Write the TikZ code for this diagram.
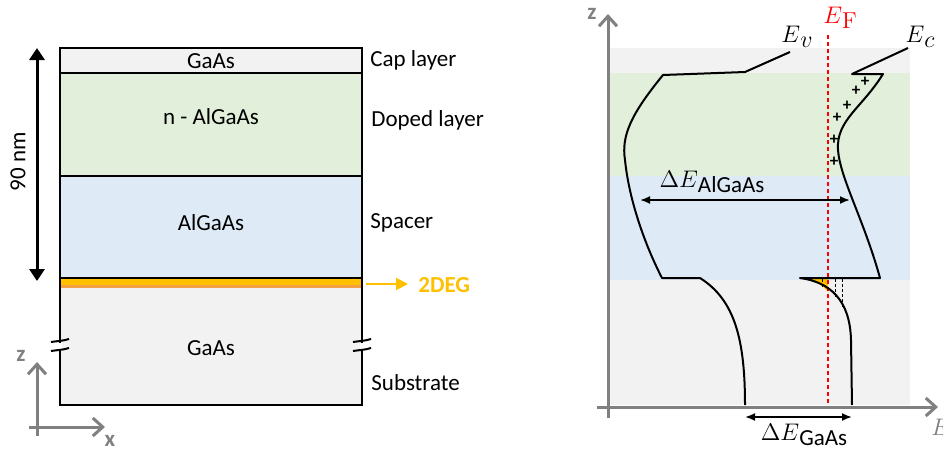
\documentclass[tikz,border=0pt]{standalone}
\usepackage{fontspec}
\setmainfont{Carlito}
\newfontfamily\serifroman{Latin Modern Roman}
\usetikzlibrary{arrows.meta}

\definecolor{capgray}{HTML}{F2F2F2}
\definecolor{dopedgreen}{HTML}{E2EFDA}
\definecolor{spacerblue}{HTML}{DEEBF7}
\definecolor{degyellow}{HTML}{FFC000}
\definecolor{degorange}{HTML}{F4A040}
\definecolor{axisgray}{HTML}{808080}

\newcommand{\basefont}{\fontsize{11.5}{14}\selectfont}

\tikzset{
  layer/.style={draw=black,line width=1pt},
  band/.style={line width=1pt,line join=round},
  axis/.style={draw=axisgray,line width=1.5pt,-{Straight Barb[length=5pt,width=9pt,line width=1.5pt]}},
  dimarrow/.style={line width=0.9pt,{Latex[length=5pt,width=4pt]}-{Latex[length=5pt,width=4pt]}},
  lbl/.style={inner sep=0pt},
  sidelbl/.style={inner sep=0pt,anchor=west},
  axlbl/.style={inner sep=0pt,text=axisgray,font=\basefont\bfseries},
  plus/.style={inner sep=0pt,font=\fontsize{8.5}{8.5}\selectfont\bfseries},
}

\begin{document}
\begin{tikzpicture}[x=0.5pt,y=-0.5pt,font=\basefont]
\useasboundingbox (0,0) rectangle (943,450);

% layer stack
\fill[capgray] (60,48) rectangle (362,73);
\fill[dopedgreen] (60,73) rectangle (362,176);
\fill[spacerblue] (60,176) rectangle (362,278);
\fill[degyellow] (60,278) rectangle (362,285);
\fill[degorange] (60,285) rectangle (362,287.5);
\fill[capgray] (60,287.5) rectangle (362,405);
\draw[layer] (60,48) rectangle (362,405);
\draw[layer] (60,73) -- (362,73);
\draw[layer] (60,176) -- (362,176);
\draw[layer] (60,278) -- (362,278);

% breaks in the substrate
\foreach \bx in {60,362}{
  \draw[white,line width=2pt] (\bx,342.5) -- (\bx,350.5);
  \draw[line width=1pt] (\bx-9,342) .. controls (\bx-3,341) and (\bx+3,341) .. (\bx+9,339);
  \draw[line width=1pt] (\bx-9,351) .. controls (\bx-3,350) and (\bx+3,350) .. (\bx+9,348);
}

\node[lbl] (capGaAs) at (211,61) {GaAs};
\node[lbl] (dopedAlGaAs) at (211,117) {n - AlGaAs};
\node[lbl] (spacerAlGaAs) at (211,223) {AlGaAs};
\node[lbl] (subGaAs) at (211,348) {GaAs};

\node[sidelbl] (capLabel) at (370,60) {Cap layer};
\node[sidelbl] (dopedLabel) at (371,120) {Doped layer};
\node[sidelbl] (spacerLabel) at (370,223) {Spacer};
\node[sidelbl] (subLabel) at (371,383) {Substrate};

\node[anchor=west,inner sep=5pt,text=degyellow,font=\basefont\bfseries] (degLabel) at (408,285) {2DEG};
\coordinate (degStart) at (366,284);
\draw[degyellow,line width=1pt,-{Triangle[length=6pt,width=6pt]}] (degStart) -- (degStart-|degLabel.west);

% thickness
\coordinate (stackTop) at (37,48);
\coordinate (stackBot) at (37,281);
\draw[line width=1.5pt,{Triangle[length=6pt,width=7.5pt]}-{Triangle[length=6pt,width=7.5pt]}] (stackTop) -- (stackBot);
\node[lbl,rotate=90] (thickLabel) at (18,162) {90 nm};

% sample axes
\coordinate (zTip) at (37,362);
\coordinate (xTip) at (105,427);
\draw[axis] (37,436) -- (zTip);
\draw[axis] (29,427) -- (xTip);
\node[axlbl] (zLeft) at (21,356) {z};
\node[axlbl] (xLeft) at (110,441) {x};

% band diagram background
\fill[capgray] (610,48) rectangle (910,73);
\fill[dopedgreen] (610,73) rectangle (910,176);
\fill[spacerblue] (610,176) rectangle (910,280);
\fill[capgray] (610,280) rectangle (910,405);

\coordinate (zTop) at (608,14);
\coordinate (eTip) at (938,407);
\draw[axis] (608,418) -- (zTop);
\draw[axis] (597,407) -- (eTip);
\node[axlbl] (zRight) at (592,14) {z};
\node[inner sep=0pt,anchor=west,text=axisgray] (eAxis) at (931,427) {$E$};

% electron gas
\fill[degyellow] (803,279) .. controls (815,281) and (823,285) .. (828,292) -- (828,279) -- cycle;
\foreach \dx/\dy in {822/287,835/298,842/309}
  \draw[dash pattern=on 1.5pt off 1pt,line width=0.4pt] (\dx,279) -- (\dx,\dy);

% Fermi level
\draw[red,line width=0.75pt,dash pattern=on 2pt off 1.5pt] (828,35) -- (828,405);
\node[lbl,text=red] (efLabel) at (840,18) {$E$\raisebox{-0.45ex}{\serifroman F}};

% valence and conduction band edges
\draw[band] (790,52) -- (745,72) -- (663,75)
  .. controls (632,113) and (621,135) .. (625,160)
  .. controls (629,200) and (645,245) .. (662,278) -- (700,278)
  .. controls (735,300) and (745,340) .. (745,405);
\draw[band] (908,48) -- (852,74) -- (883,74)
  .. controls (862,108) and (836,120) .. (838,150)
  .. controls (840,178) and (864,220) .. (880,278) -- (800,278)
  .. controls (830,282) and (850,300) .. (851,340) -- (852,405);

\node[lbl] (evLabel) at (797,37) {$E$\raisebox{-0.5ex}{$v$}};
\node[lbl] (ecLabel) at (920,37) {$E$\raisebox{-0.5ex}{$c$}};

% ionised donors
\foreach \px/\py [count=\i] in {865/82,856/91,847/106,837/118,834/140,834/162}
  \node[plus] (plus\i) at (\px,\py) {+};

% band gaps
\coordinate (gapAlL) at (640,200);
\coordinate (gapAlR) at (850,200);
\draw[dimarrow] (gapAlL) -- (gapAlR);
\node[lbl] (gapAlLabel) at (712,182) {$\Delta E$\raisebox{-0.45ex}{AlGaAs}};
\coordinate (gapGaL) at (745,417);
\coordinate (gapGaR) at (852,417);
\draw[dimarrow] (gapGaL) -- (gapGaR);
\node[lbl] (gapGaLabel) at (804,435) {$\Delta E$\raisebox{-0.45ex}{GaAs}};
\end{tikzpicture}
\end{document}
